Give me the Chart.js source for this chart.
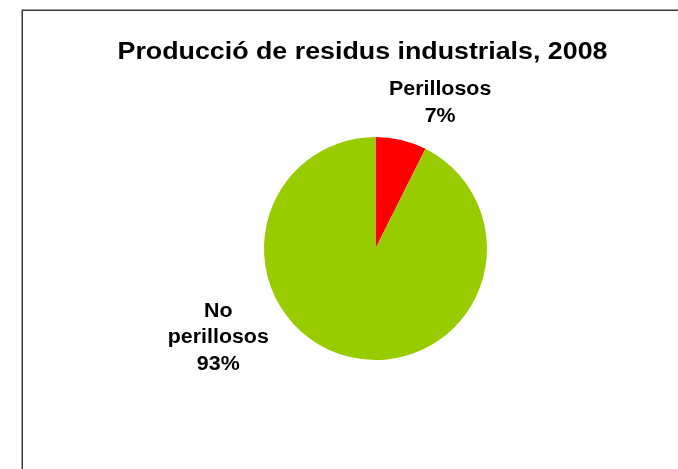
<!DOCTYPE html>
<html>
<head>
<meta charset="utf-8">
<script src="https://cdn.jsdelivr.net/npm/chart.js@4.4.1/dist/chart.umd.min.js"></script>
<style>
html,body{margin:0;padding:0;background:#fff;}
#wrap{width:678px;height:469px;position:relative;}
</style>
</head>
<body>
<div id="wrap"><canvas id="c" width="678" height="469"></canvas></div>
<script>
const chartTitle = "Producció de residus industrials, 2008";
const categories = ["Perillosos", "No perillosos"];
const labelLines = [["Perillosos"], ["No", "perillosos"]];
const values = [7.4, 92.6];
const colors = ["#FF0000", "#99CC00"];
// label anchor offsets, in units of the pie radius, relative to the pie centre
const labelAnchors = [[0.58, -1.435], [-1.41, 0.55]];

const total = values.reduce((a, b) => a + b, 0);
const FONT = "'Liberation Sans', Arial, sans-serif";

function stretchedText(ctx, text, x, y, sx) {
  ctx.save();
  ctx.translate(x, y);
  ctx.scale(sx, 1);
  ctx.fillText(text, 0, 0);
  ctx.restore();
}

const decor = {
  id: 'decor',
  beforeDraw(chart) {
    const ctx = chart.ctx;
    ctx.save();
    ctx.strokeStyle = '#3a3a3a';
    ctx.lineWidth = 1.5;
    ctx.strokeRect(22.25, 10.25, 800, 600);
    ctx.restore();
  },
  afterDraw(chart) {
    const ctx = chart.ctx;
    ctx.save();
    ctx.fillStyle = '#000';
    ctx.textAlign = 'center';
    ctx.textBaseline = 'alphabetic';
    ctx.font = "bold 23px " + FONT;
    stretchedText(ctx, chartTitle, 362.5, 59, 1.165);
    const meta = chart.getDatasetMeta(0);
    ctx.font = "bold 20px " + FONT;
    meta.data.forEach((arc, i) => {
      const r = arc.outerRadius;
      const cx = arc.x + labelAnchors[i][0] * r;
      const cy = arc.y + labelAnchors[i][1] * r;
      const pct = Math.round(values[i] / total * 100) + '%';
      const lines = labelLines[i].concat([pct]);
      lines.forEach((t, k) => {
        stretchedText(ctx, t, cx, cy + 7 + k * 26.5, 1.07);
      });
    });
    ctx.restore();
  }
};

new Chart(document.getElementById('c'), {
  type: 'pie',
  data: {
    labels: categories,
    datasets: [{
      data: values,
      backgroundColor: colors,
      borderWidth: 0,
      hoverOffset: 0
    }]
  },
  options: {
    responsive: false,
    animation: false,
    events: [],
    layout: { padding: { left: 264, right: 191, top: 137, bottom: 109 } },
    plugins: {
      legend: { display: false },
      title: { display: false },
      tooltip: { enabled: false }
    }
  },
  plugins: [decor]
});
</script>
</body>
</html>
